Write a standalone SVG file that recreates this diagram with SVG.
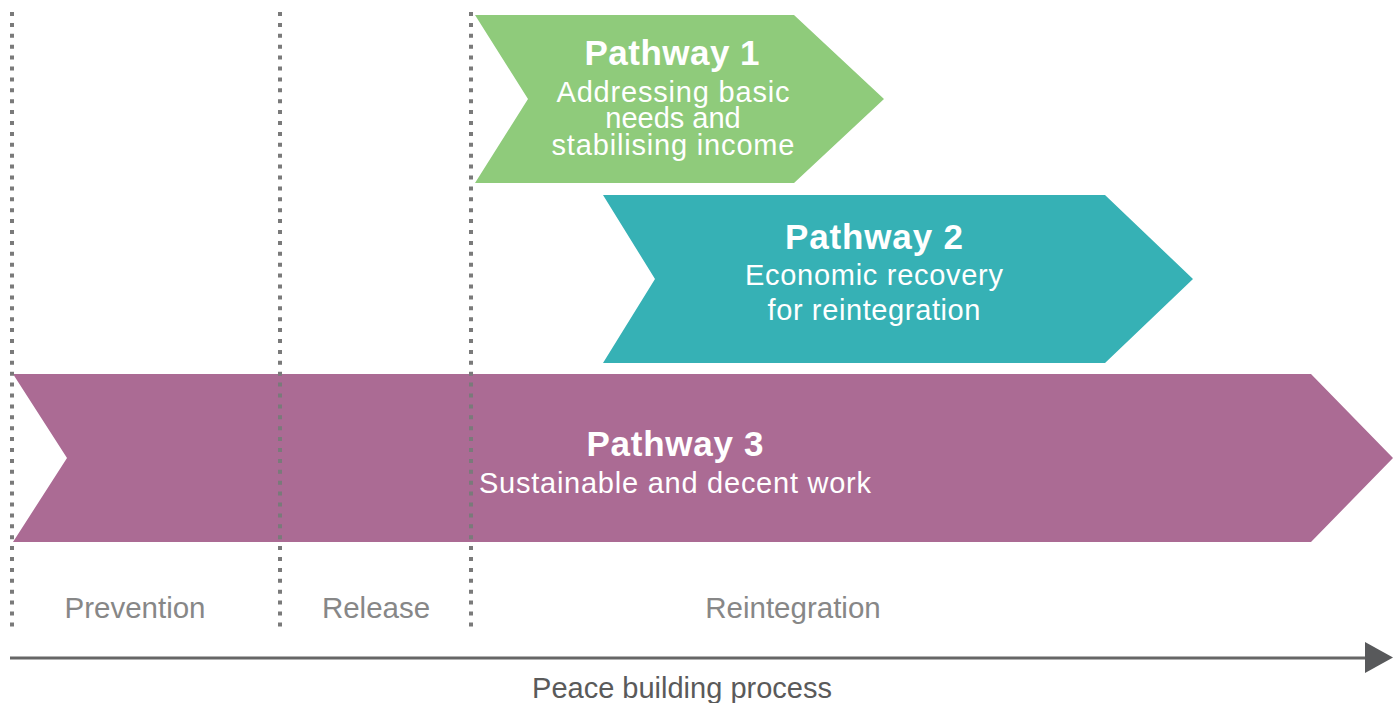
<svg xmlns="http://www.w3.org/2000/svg" width="1393" height="703" viewBox="0 0 1393 703">
  <style>
    .title { font-family: "Liberation Sans", Arial, sans-serif; font-weight: bold; font-size: 35px; fill: #ffffff; text-anchor: middle; }
    .body { font-family: "Liberation Sans", Arial, sans-serif; font-size: 29px; fill: #ffffff; text-anchor: middle; }
    .phase { font-family: "Liberation Sans", Arial, sans-serif; font-size: 29.5px; fill: #878787; text-anchor: middle; }
    .axis { font-family: "Liberation Sans", Arial, sans-serif; font-size: 29px; fill: #5a5a5a; text-anchor: middle; }
    .dots { stroke: #7a7a7a; stroke-width: 4; stroke-dasharray: 4 6.9; fill: none; }
  </style>
  <rect width="1393" height="703" fill="#ffffff"/>

  <g id="pathway3">
    <polygon points="13,374 1311,374 1393,458 1311,542 13,542 67,458" fill="#ab6b94"/>
    <text class="title" x="675" y="456" textLength="177">Pathway 3</text>
    <text class="body" x="675" y="493" textLength="392">Sustainable and decent work</text>
  </g>

  <g id="pathway2">
    <polygon points="603,195 1105,195 1193,279 1105,363 603,363 655,279" fill="#36b1b5"/>
    <text class="title" x="874" y="249" textLength="178">Pathway 2</text>
    <text class="body" x="874" y="285" textLength="258">Economic recovery</text>
    <text class="body" x="874" y="320" textLength="213">for reintegration</text>
  </g>

  <g id="pathway1">
    <polygon points="475,15 794,15 884,99 794,183 475,183 528,99" fill="#8fcb7b"/>
    <text class="title" x="672" y="65" textLength="175">Pathway 1</text>
    <text class="body" x="673" y="102" textLength="233">Addressing basic</text>
    <text class="body" x="673" y="128">needs and</text>
    <text class="body" x="673" y="155" textLength="243">stabilising income</text>
  </g>

  <g id="dividers">
    <line class="dots" x1="12" y1="12" x2="12" y2="627"/>
    <line class="dots" x1="280" y1="12" x2="280" y2="627"/>
    <line class="dots" x1="471" y1="12" x2="471" y2="627"/>
  </g>

  <g id="phases">
    <text class="phase" x="135" y="618">Prevention</text>
    <text class="phase" x="376" y="618">Release</text>
    <text class="phase" x="793" y="618">Reintegration</text>
  </g>

  <g id="connectors">
    <line x1="10" y1="658" x2="1368" y2="658" stroke="#666666" stroke-width="3"/>
    <polygon points="1365,642 1393,657.5 1365,673" fill="#58595b"/>
  </g>

  <g id="axis-label">
    <text class="axis" x="682" y="698">Peace building process</text>
  </g>
</svg>
